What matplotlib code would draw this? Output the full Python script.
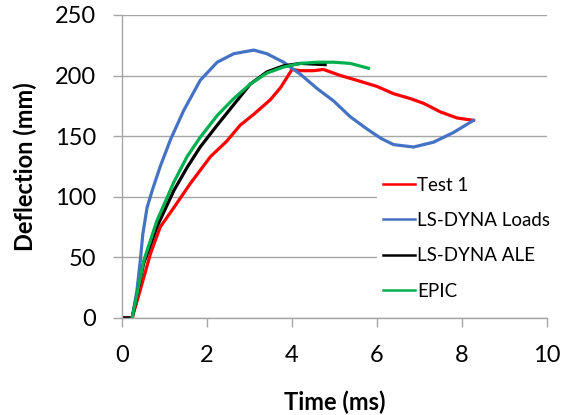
import numpy as np
import matplotlib
matplotlib.use("Agg")
from matplotlib import pyplot as plt

plt.rcParams['font.family'] = ['Lato', 'DejaVu Sans']

# Test 1
t_test = [0, 0.24, 0.43, 0.67, 0.9, 1.22, 1.61, 2.08, 2.47, 2.78, 3.1, 3.49, 3.73, 4.0,
          4.2, 4.5, 4.74, 5.14, 5.53, 6.0, 6.39, 6.78, 7.1, 7.49, 7.88, 8.27]
d_test = [0, 0, 23, 53, 75, 91, 111, 133, 146, 159, 168, 180, 190, 205,
          204, 204, 205, 200, 196, 191, 185, 181, 177, 170, 165, 163]

# LS-DYNA Loads
t_loads = [0.24, 0.35, 0.43, 0.49, 0.59, 0.71, 0.9, 1.14, 1.45, 1.84, 2.24, 2.63, 3.1,
           3.41, 3.8, 4.2, 4.6, 4.98, 5.37, 5.76, 6.1, 6.39, 6.86, 7.33, 7.8, 8.27]
d_loads = [0, 22, 47, 69, 91, 105, 125, 147, 171, 196, 211, 218, 221,
           218, 211, 201, 189, 179, 166, 156, 148, 143, 141, 145, 153, 163]

# LS-DYNA ALE
t_ale = [0, 0.24, 0.51, 0.82, 1.22, 1.53, 1.84, 2.24, 2.63, 3.02, 3.41, 3.8, 4.2, 4.78]
d_ale = [0, 0, 45, 75, 105, 124, 141, 159, 176, 193, 203, 208, 210, 209]

# EPIC
t_epic = [0.24, 0.51, 0.82, 1.22, 1.53, 1.84, 2.24, 2.63, 3.02, 3.41, 3.8, 4.2, 4.59,
          4.98, 5.37, 5.8]
d_epic = [0, 47, 80, 112, 133, 149, 167, 181, 193, 202, 207, 210, 211, 211, 210, 206]

fig = plt.figure(figsize=(5.74, 4.15), dpi=100)
ax = fig.add_axes([0.2125, 0.234, 0.7405, 0.730])

grid_c = '#a6a6a6'
ax.plot(t_test, d_test, color='#ff0000', lw=2.3, label='Test 1')
ax.plot(t_loads, d_loads, color='#4472c4', lw=2.3, label='LS-DYNA Loads')
ax.plot(t_ale, d_ale, color='black', lw=2.3, label='LS-DYNA ALE')
ax.plot(t_epic, d_epic, color='#00b050', lw=2.3, label='EPIC')

ax.set_xlim(0, 10)
ax.set_ylim(0, 250)
ax.set_xticks([0, 2, 4, 6, 8, 10])
ax.set_yticks([0, 50, 100, 150, 200, 250])
ax.grid(axis='y', color=grid_c, lw=1)
ax.set_axisbelow(True)
for s in ['top', 'right']:
    ax.spines[s].set_visible(False)
for s in ['left', 'bottom']:
    ax.spines[s].set_color(grid_c)
    ax.spines[s].set_linewidth(1)
ax.tick_params(axis='both', colors=grid_c, length=6.5, width=1, labelsize=17,
               labelcolor='black')
ax.tick_params(axis='y', pad=12)
ax.tick_params(axis='x', pad=13)
ax.set_xlabel('Time (ms)', fontsize=17, fontweight='bold', labelpad=18)
ax.set_ylabel('Deflection (mm)', fontsize=17, fontweight='bold', labelpad=13)

leg = ax.legend(loc='upper left', bbox_to_anchor=(0.6, 0.485), frameon=True,
                fontsize=13.5, handlelength=1.75, handletextpad=0.1,
                labelspacing=0.98, borderaxespad=0, borderpad=0.3, fancybox=False)
leg.get_frame().set_edgecolor('none')
leg.get_frame().set_facecolor('white')
leg.get_frame().set_alpha(1)
for line in leg.get_lines():
    line.set_linewidth(1.8)

fig.savefig('out.png', dpi=100)
